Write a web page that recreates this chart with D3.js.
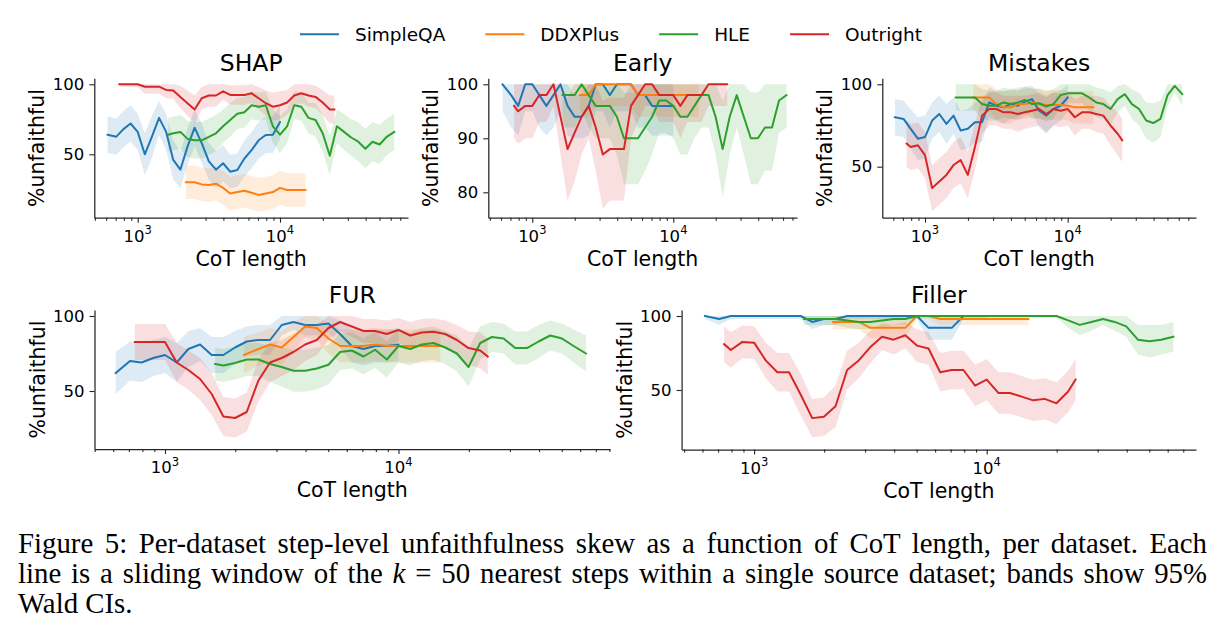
<!DOCTYPE html>
<html><head><meta charset="utf-8">
<script src="https://cdn.jsdelivr.net/npm/d3@7"></script>
<style>
html,body{margin:0;padding:0;background:#fff;}
svg{display:block;}
</style></head><body>
<svg id="chart" width="1223" height="643"></svg>
<script>
// ---------------- DATA ----------------
const datasets = ["SimpleQA", "DDXPlus", "HLE", "Outright"];
const colors = ["#1f77b4", "#ff7f0e", "#2ca02c", "#d62728"];

// CoT length sample positions per source dataset
const xSimpleQA = [615, 708, 794, 891, 1000, 1122, 1259, 1413, 1585, 1778, 1995, 2239, 2512, 2818, 3162, 3548, 3981, 4467, 5012, 5623, 6310, 7079, 7943, 8913, 10000];
const xDDXPlus = [2180, 2512, 2818, 3162, 3548, 3981, 4467, 5012, 5623, 6310, 7079, 7943, 8913, 10000, 11220, 12590, 14130, 15100];
const xHLE = [1640, 1778, 1995, 2239, 2512, 2818, 3162, 3548, 3981, 4467, 5012, 5623, 6310, 7079, 7943, 8913, 10000, 11220, 12590, 14130, 15850, 17780, 19950, 22390, 25120, 28180, 31620, 35480, 39810, 44670, 50120, 56230, 63500];
const xOutright = [743, 794, 891, 1000, 1122, 1259, 1413, 1585, 1778, 1995, 2239, 2512, 2818, 3162, 3548, 3981, 4467, 5012, 5623, 6310, 7079, 7943, 8913, 10000, 11220, 12590, 14130, 15850, 17780, 19950, 22390, 24100];

// SHAP
const shapSimpleQA = [64, 62.6, 68, 72, 66, 50, 62.6, 76, 66, 46, 39, 55.5, 69, 58, 45, 39, 43.6, 37.6, 38.8, 47, 53, 60, 63.8, 64, 73];
const shapSimpleQACI = [13,13,13,13,13,15,15,12,13,14,13,13,13,14,13,13,13,12,12,13,13,13,13,13,12];
const shapDDXPlus = [30, 30, 28.5, 28, 29, 26, 22, 23, 24, 22.5, 21, 22, 23, 26, 24.5, 24.5, 24.5, 24.5];
const shapDDXPlusCI = [12,12,12,12,12,12,12,12,12,12,12,12,12,12,12,12,12,12];
const shapHLE = [64,65,66,61,60,60,62.5,65,70,74.5,79,80,85,84,85,70,64,70,85,84,76,74.5,65,49,70,66,62,59,54,59,57,62.5,66];
const shapHLECI = [12,12,12,13,13,13,13,13,12,12,11,11,10,10,10,12,13,12,10,10,11,12,13,14,12,13,13,14,14,14,14,13,13];
const shapOutright = [100,100,100,100,98.3,98.3,98.3,96,95.5,91,86.5,82,90,92,92,95,92.4,92.4,92.4,93.6,90,86.5,84,85,87,92,93.6,92,91,87,82,82];
const shapOutrightCI = [2,2,2,2,5,5,5,6,6,8,9,10,8,8,8,6,7,7,7,7,8,9,10,10,9,8,7,8,8,9,10,10];

// Early
const earlySimpleQA = [100, 98, 96, 100, 100, 98, 96, 98, 100, 96, 94, 94, 96, 100, 100, 98, 100, 100, 100, 98, 98, 96, 96, 96, 96];
const earlySimpleQACI = [5,6,5.5,5,5,6,5.5,6,5,5.5,4,4,5.5,5,5,6,5,5,5,6,6,5.5,5.5,5.5,5.5];
const earlyDDXPlus = [98,98,100,100,100,100,100,100,98,98,98,98,98,98,98,98,98,98];
const earlyDDXPlusCI = [4,4,4,4,4,4,4,4,4,4,4,4,4,4,4,4,4,4];
const earlyHLE = [98,98,98,100,98,96,96,96,94,90,90,90,92,94,97,97,96,94,94,96,98,98,94,88,94,98,94,90,90,92,92,97,98];
const earlyHLECI = [6,6,6,5,6,6,6,6,7,8.5,8.5,8.5,8,7,6,6,6,7,7,6,6,6,7,9,7,6,7,8.5,8.5,8,8,6,6];
const earlyOutright = [96,95,96,96,98,98,100,94,88,91,94,96,92,87,88,88,88,96,98,100,100,98,98,98,96,98,98,98,100,100,100,100];
const earlyOutrightCI = [6,6,6,6,5,5,4,7,9.5,9,7,6,8,10,9.5,9.5,9.5,6,5,4,4,5,5,5,6,5,5,5,4,4,4,4];

// Mistakes
const mistakesSimpleQA = [80, 79, 73, 67, 68, 78, 82, 76, 81, 72, 73, 77, 77, 89, 87, 86, 88, 87, 89.5, 91, 84, 81, 85, 87, 92];
const mistakesSimpleQACI = [11,11,12,13,13,11,11,12,11,12,12,12,12,9,9,10,9,9,9,8,10,11,10,9,8];
const mistakesDDXPlus = [92, 92, 92, 88, 86, 86, 88, 88, 89, 88, 87.5, 87.5, 87.5, 87, 86, 86, 86, 86];
const mistakesDDXPlusCI = [8,8,8,9,10,10,9,9,9,9,9,9,9,9,10,10,10,10];
const mistakesHLE = [92, 92, 92, 92, 88, 87, 87, 89, 88, 89, 90.5, 88, 88.5, 86.5, 88, 93.5, 94.5, 94.5, 94.5, 92, 89, 88, 85, 91, 94, 88, 85, 78, 76.5, 79, 93.5, 99, 94];
const mistakesHLECI = [8,8,8,8,9,9,9,9,9,9,8,9,9,9,9,7,6,6,6,8,9,9,10,8,7,9,10,11,12,11,7,4,7];
const mistakesOutright = [64, 62, 63, 57, 37, 41, 45, 51, 54, 45, 62, 81, 85, 85, 83, 83, 82, 83, 84, 85, 82, 85, 84, 85, 80, 83, 83, 82, 81, 75, 70, 66];
const mistakesOutrightCI = [14,14,14,14,14,14,14,14,14,14,14,11,10,10,10,10,11,10,10,10,11,10,10,10,11,10,10,11,11,12,13,13];

// FUR
const furSimpleQA = [62, 70, 69, 72, 74, 69, 78, 81, 74, 74, 79, 83, 84, 84, 94, 96, 94, 94, 95, 88, 80, 78, 80, 80, 81];
const furSimpleQACI = [14,13,13,12,12,13,12,11,12,12,11,10,10,10,7,5,7,7,6,9,11,11,11,11,11];
const furDDXPlus = [74, 78, 81, 79, 86, 93, 92, 85, 80, 80, 80, 81, 80, 80, 80, 80, 80, 80];
const furDDXPlusCI = [12,11,11,11,10,7,8,10,11,11,11,11,11,11,11,11,11,11];
const furHLE = [68, 67, 68.7, 71, 71, 68, 66, 63.5, 63.5, 65, 67.5, 76, 77, 73, 77.5, 71, 80, 78, 81, 82, 79, 75, 66, 82, 86, 85, 78.6, 78.6, 83, 87, 85, 80, 75];
const furHLECI = [11,11,11,11,11,12,13,14,14,14,13,12,12,12,12,12,11,11,11,11,11,12,13,11,10,10,11,11,11,10,10,11,12];
const furOutright = [82.6, 82.6, 82.6, 82.6, 69, 64, 58, 48, 33, 32, 36, 57, 69, 72, 76, 81, 84, 92, 96, 93, 90, 90, 88, 90.7, 87, 89, 89.5, 88, 84, 78.6, 77, 73];
const furOutrightCI = [12,12,12,12,13,13,14,14,13,13,13,14,13,12,12,11,10,8,6,7,8,8,9,8,9,9,9,9,10,11,12,12];

// Filler
const fillerSimpleQA = [100, 98, 100, 100, 100, 100, 100, 100, 100, 96, 98, 98, 100, 100, 100, 100, 100, 100, 100, 92, 92, 92, 100, 100, 100];
const fillerSimpleQACI = [2,4,2,2,2,2,2,2,2,5,4,4,2,2,2,2,2,2,2,8,8,8,2,2,2];
const fillerDDXPlus = [96,96,96,92,92,92,92,100,100,98,98,98,98,98,98,98,98,98];
const fillerDDXPlusCI = [5,5,5,7,7,7,7,2,2,4,4,4,4,4,4,4,4,4];
const fillerHLE = [98,98,98,98,97,96,96,97,98,98,100,100,100,100,100,100,100,100,100,100,100,100,100,97,94,96,98,96,93,84,83,84,86];
const fillerHLECI = [4,4,4,4,5,5,5,5,4,4,1,1,1,1,1,1,1,1,1,1,1,1,1,5,7,6,4,6,7,10,11,10,10];
const fillerOutright = [81, 77, 82.5, 82, 70, 62, 62, 47, 31, 32, 39, 63.5, 70, 79, 86, 84, 87, 80, 78, 62, 63.5, 63.5, 53, 57, 48, 48, 45.5, 43, 44, 41, 49, 57];
const fillerOutrightCI = [12,12,11,11,12,13,13,14,13,13,14,13,12,11,9,10,9,11,11,13,13,13,14,14,14,14,14,14,14,14,14,14];

// Ticks
const xMajorTicks = [1000, 10000];
const xMajorExponents = ["3", "4"];
const xMinorTicks = [500, 600, 700, 800, 900, 2000, 3000, 4000, 5000, 6000, 7000, 8000, 9000, 20000, 30000, 40000, 50000, 60000, 70000, 80000];
const yTicksDefault = [50, 100];
const yTicksEarly = [80, 90, 100];

const panelTitles = ["SHAP", "Early", "Mistakes", "FUR", "Filler"];
const xLabel = "CoT length";
const yLabel = "%unfaithful";

const captionLine1 = "Figure 5: Per-dataset step-level unfaithfulness skew as a function of CoT length, per dataset. Each";
const captionLine2a = "line is a sliding window of the ";
const captionLine2k = "k";
const captionLine2b = " = 50 nearest steps within a single source dataset; bands show 95%";
const captionLine3 = "Wald CIs.";

// ---------------- LAYOUT ----------------
const xArrays = [xSimpleQA, xDDXPlus, xHLE, xOutright];
const panels = [
  {title: panelTitles[0], series: [[shapSimpleQA, shapSimpleQACI],[shapDDXPlus, shapDDXPlusCI],[shapHLE, shapHLECI],[shapOutright, shapOutrightCI]],
   x0: 94.3, x1: 408, t3: 137.7, t4: 280, yTop: 78.3, yBot: 217.7, y100: 84.3, yRef: 154.3, refVal: 50, yticks: yTicksDefault},
  {title: panelTitles[1], series: [[earlySimpleQA, earlySimpleQACI],[earlyDDXPlus, earlyDDXPlusCI],[earlyHLE, earlyHLECI],[earlyOutright, earlyOutrightCI]],
   x0: 488.3, x1: 797, t3: 532.3, t4: 673.3, yTop: 78.3, yBot: 217.7, y100: 84.3, yRef: 192.3, refVal: 80, yticks: yTicksEarly},
  {title: panelTitles[2], series: [[mistakesSimpleQA, mistakesSimpleQACI],[mistakesDDXPlus, mistakesDDXPlusCI],[mistakesHLE, mistakesHLECI],[mistakesOutright, mistakesOutrightCI]],
   x0: 882.3, x1: 1196, t3: 925, t4: 1067.7, yTop: 78.3, yBot: 217.7, y100: 84.3, yRef: 166.7, refVal: 50, yticks: yTicksDefault},
  {title: panelTitles[3], series: [[furSimpleQA, furSimpleQACI],[furDDXPlus, furDDXPlusCI],[furHLE, furHLECI],[furOutright, furOutrightCI]],
   x0: 94.5, x1: 610, t3: 165, t4: 398.5, yTop: 310, yBot: 449, y100: 316, yRef: 391, refVal: 50, yticks: yTicksDefault},
  {title: panelTitles[4], series: [[fillerSimpleQA, fillerSimpleQACI],[fillerDDXPlus, fillerDDXPlusCI],[fillerHLE, fillerHLECI],[fillerOutright, fillerOutrightCI]],
   x0: 681.6, x1: 1196, t3: 754.1, t4: 986.7, yTop: 310, yBot: 449.5, y100: 316, yRef: 390, refVal: 50, yticks: yTicksDefault}
];

const SANS = "'DejaVu Sans', sans-serif";
const SERIF = "'Liberation Serif', 'Times New Roman', serif";
const AXIS_COLOR = "#262626";

const svg = d3.select("#chart");
const defs = svg.append("defs");

panels.forEach((p, i) => {
  const xr = d3.scaleLog().domain([1e3, 1e4]).range([p.t3, p.t4]);
  const x = d3.scaleLog().domain([xr.invert(p.x0), xr.invert(p.x1)]).range([p.x0, p.x1]);
  const yr = d3.scaleLinear().domain([100, p.refVal]).range([p.y100, p.yRef]);
  const y = d3.scaleLinear().domain([yr.invert(p.yBot), yr.invert(p.yTop)]).range([p.yBot, p.yTop]);

  defs.append("clipPath").attr("id", "clip" + i).append("rect")
    .attr("x", p.x0).attr("y", p.yTop - 3).attr("width", p.x1 - p.x0).attr("height", p.yBot - p.yTop + 3);

  const g = svg.append("g");
  const dg = g.append("g").attr("clip-path", `url(#clip${i})`);

  const seriesPts = p.series.map((s, k) => xArrays[k].map((xv, j) => ({x: xv, y: s[0][j], ci: s[1][j]})));

  const area = d3.area()
    .x(d => x(d.x))
    .y0(d => y(Math.max(0, d.y - d.ci)))
    .y1(d => y(Math.min(100, d.y + d.ci)));
  const line = d3.line().x(d => x(d.x)).y(d => y(d.y));

  seriesPts.forEach((pts, k) => {
    dg.append("path").datum(pts).attr("d", area)
      .attr("fill", colors[k]).attr("fill-opacity", 0.15).attr("stroke", "none");
  });
  seriesPts.forEach((pts, k) => {
    dg.append("path").datum(pts).attr("d", line)
      .attr("fill", "none").attr("stroke", colors[k]).attr("stroke-width", 2)
      .attr("stroke-linejoin", "round").attr("stroke-linecap", "square");
  });

  // x axis: major
  const dom = x.domain();
  const gx = g.append("g").attr("transform", `translate(0,${p.yBot})`)
    .call(d3.axisBottom(x).tickValues(xMajorTicks).tickSize(5).tickSizeOuter(0).tickFormat(() => ""));
  gx.selectAll("text").remove();
  // x axis: minor
  const gxm = g.append("g").attr("transform", `translate(0,${p.yBot})`)
    .call(d3.axisBottom(x).tickValues(xMinorTicks.filter(v => v >= dom[0] && v <= dom[1])).tickSize(3).tickSizeOuter(0).tickFormat(() => ""));
  gxm.select(".domain").remove();
  gxm.selectAll("text").remove();
  [gx, gxm].forEach(a => {
    a.selectAll("line").attr("stroke", AXIS_COLOR).attr("stroke-width", 1.1);
    a.select(".domain").attr("stroke", AXIS_COLOR).attr("stroke-width", 1.25);
  });
  xMajorTicks.forEach((v, j) => {
    const t = g.append("text").attr("x", x(v)).attr("y", p.yBot + 24)
      .attr("text-anchor", "middle").attr("font-family", SANS).attr("font-size", 16.5).attr("fill", "#000");
    t.append("tspan").text("10");
    t.append("tspan").attr("dy", -7.5).attr("font-size", 11.5).text(xMajorExponents[j]);
  });

  // y axis
  const gy = g.append("g").attr("transform", `translate(${p.x0},0)`)
    .call(d3.axisLeft(y).tickValues(p.yticks).tickSize(5).tickPadding(5).tickSizeOuter(0).tickFormat(d3.format("d")));
  gy.selectAll("line").attr("stroke", AXIS_COLOR).attr("stroke-width", 1.1);
  gy.select(".domain").attr("stroke", AXIS_COLOR).attr("stroke-width", 1.25);
  gy.selectAll("text").attr("font-family", SANS).attr("font-size", 16.5).attr("fill", "#000");

  // labels & title
  const cx = (p.x0 + p.x1) / 2;
  g.append("text").attr("x", cx).attr("y", p.yBot + 48).attr("text-anchor", "middle")
    .attr("font-family", SANS).attr("font-size", 20.5).attr("fill", "#000").text(xLabel);
  g.append("text").attr("transform", `translate(${p.x0 - 50},${(p.yTop + p.yBot) / 2}) rotate(-90)`)
    .attr("text-anchor", "middle").attr("font-family", SANS).attr("font-size", 20.5).attr("fill", "#000").text(yLabel);
  g.append("text").attr("x", cx).attr("y", p.yTop - 7.5).attr("text-anchor", "middle")
    .attr("font-family", SANS).attr("font-size", 23.5).attr("fill", "#000").text(p.title);
});

// ---------------- LEGEND ----------------
const legendY = 34.3, handleLen = 39, handlePad = 16, colSpacing = 40, legendFont = 18.5;
const lg = svg.append("g");
const tmp = lg.append("g");
const widths = datasets.map(name => {
  const t = tmp.append("text").attr("font-family", SANS).attr("font-size", legendFont).text(name);
  return t.node().getComputedTextLength();
});
tmp.remove();
const total = d3.sum(widths) + datasets.length * (handleLen + handlePad) + (datasets.length - 1) * colSpacing;
let lx = 611 - total / 2;
datasets.forEach((name, k) => {
  lg.append("line").attr("x1", lx).attr("x2", lx + handleLen).attr("y1", legendY).attr("y2", legendY)
    .attr("stroke", colors[k]).attr("stroke-width", 2);
  lg.append("text").attr("x", lx + handleLen + handlePad).attr("y", legendY + 6.7)
    .attr("font-family", SANS).attr("font-size", legendFont).attr("fill", "#000").text(name);
  lx += handleLen + handlePad + widths[k] + colSpacing;
});

// ---------------- CAPTION ----------------
const capX0 = 18, capX1 = 1207, capFont = 28.8;
const capBase = [553, 583, 613];
function justify(textSel, spaces) {
  const w = textSel.node().getComputedTextLength();
  const extra = (capX1 - capX0 - w) / spaces;
  textSel.attr("word-spacing", extra);
}
const c1 = svg.append("text").attr("x", capX0).attr("y", capBase[0]).attr("font-family", SERIF)
  .attr("font-size", capFont).attr("fill", "#000").text(captionLine1);
justify(c1, (captionLine1.match(/ /g) || []).length);
const c2 = svg.append("text").attr("x", capX0).attr("y", capBase[1]).attr("font-family", SERIF)
  .attr("font-size", capFont).attr("fill", "#000").attr("xml:space", "preserve").style("white-space", "pre");
c2.append("tspan").text(captionLine2a);
c2.append("tspan").attr("font-style", "italic").text(captionLine2k);
c2.append("tspan").text(captionLine2b);
justify(c2, ((captionLine2a + captionLine2b).match(/ /g) || []).length);
svg.append("text").attr("x", capX0).attr("y", capBase[2]).attr("font-family", SERIF)
  .attr("font-size", capFont).attr("fill", "#000").text(captionLine3);
</script>
</body></html>
